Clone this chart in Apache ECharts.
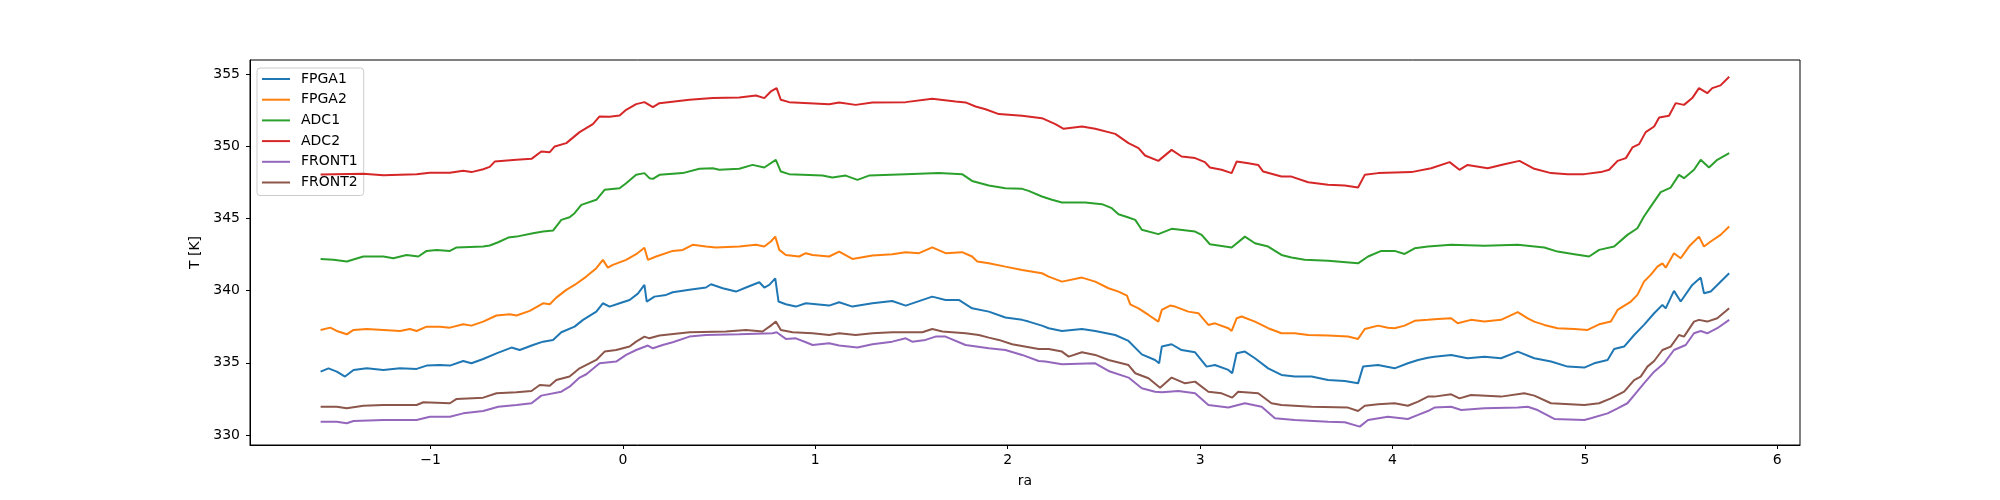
<!DOCTYPE html>
<html>
<head>
<meta charset="utf-8">
<script src="https://cdn.jsdelivr.net/npm/echarts@6/dist/echarts.min.js"></script>
<style>
html,body{margin:0;padding:0;background:#fff;}
#chart{width:2000px;height:500px;}
</style>
</head>
<body>
<div id="chart"></div>
<script>
const seriesNames = ['FPGA1','FPGA2','ADC1','ADC2','FRONT1','FRONT2'];
const xTicks = [-1,0,1,2,3,4,5,6];
const yTicks = [330,335,340,345,350,355];

const fpga1 = [[-1.571,334.39],[-1.530,334.62],[-1.487,334.39],[-1.444,334.05],[-1.400,334.51],[-1.331,334.62],[-1.245,334.51],[-1.158,334.62],[-1.072,334.58],[-1.020,334.81],[-0.951,334.85],[-0.899,334.81],[-0.830,335.13],[-0.787,334.97],[-0.726,335.27],[-0.657,335.66],[-0.579,336.06],[-0.536,335.89],[-0.467,336.24],[-0.415,336.47],[-0.363,336.59],[-0.320,337.12],[-0.251,337.51],[-0.207,337.98],[-0.138,338.55],[-0.104,339.13],[-0.069,338.90],[-0.017,339.13],[0.035,339.36],[0.078,339.80],[0.112,340.40],[0.124,339.25],[0.164,339.59],[0.225,339.71],[0.259,339.89],[0.346,340.06],[0.432,340.22],[0.458,340.45],[0.519,340.17],[0.588,339.94],[0.640,340.22],[0.709,340.59],[0.735,340.22],[0.761,340.40],[0.792,340.86],[0.809,339.25],[0.847,339.06],[0.899,338.90],[0.951,339.13],[1.072,338.97],[1.124,339.20],[1.193,338.90],[1.297,339.13],[1.400,339.29],[1.470,338.97],[1.608,339.59],[1.677,339.36],[1.746,339.36],[1.815,338.78],[1.902,338.55],[1.988,338.14],[2.075,337.98],[2.109,337.86],[2.178,337.58],[2.213,337.40],[2.282,337.21],[2.386,337.35],[2.455,337.21],[2.559,336.93],[2.628,336.52],[2.697,335.59],[2.766,335.20],[2.787,334.97],[2.801,336.13],[2.852,336.29],[2.904,335.89],[2.974,335.73],[3.034,334.74],[3.077,334.85],[3.147,334.51],[3.167,334.28],[3.190,335.66],[3.233,335.78],[3.285,335.32],[3.354,334.62],[3.423,334.16],[3.492,334.05],[3.579,334.05],[3.665,333.81],[3.752,333.74],[3.821,333.58],[3.847,334.74],[3.925,334.85],[4.011,334.62],[4.080,334.97],[4.133,335.20],[4.184,335.36],[4.218,335.43],[4.305,335.55],[4.390,335.32],[4.478,335.43],[4.564,335.32],[4.651,335.78],[4.737,335.32],[4.824,335.09],[4.910,334.74],[4.997,334.67],[5.048,334.97],[5.118,335.20],[5.152,335.96],[5.204,336.13],[5.256,336.93],[5.307,337.63],[5.360,338.44],[5.403,339.02],[5.420,338.78],[5.463,339.99],[5.498,339.25],[5.558,340.40],[5.602,340.91],[5.619,339.82],[5.654,339.94],[5.750,341.21]];

const fpga2 = [[-1.571,337.28],[-1.521,337.44],[-1.487,337.21],[-1.435,336.98],[-1.400,337.28],[-1.331,337.35],[-1.245,337.28],[-1.158,337.21],[-1.107,337.35],[-1.072,337.21],[-1.020,337.51],[-0.951,337.51],[-0.899,337.44],[-0.830,337.67],[-0.787,337.58],[-0.726,337.86],[-0.657,338.28],[-0.588,338.37],[-0.553,338.28],[-0.484,338.60],[-0.415,339.13],[-0.380,339.06],[-0.346,339.52],[-0.294,340.06],[-0.251,340.40],[-0.190,340.98],[-0.138,341.56],[-0.104,342.14],[-0.078,341.60],[-0.052,341.79],[0.017,342.14],[0.069,342.53],[0.112,342.98],[0.130,342.14],[0.173,342.37],[0.259,342.76],[0.311,342.83],[0.363,343.18],[0.432,343.06],[0.484,343.00],[0.605,343.06],[0.692,343.18],[0.735,343.06],[0.769,343.41],[0.792,343.75],[0.813,342.83],[0.847,342.48],[0.916,342.37],[0.951,342.60],[0.986,342.48],[1.072,342.37],[1.124,342.71],[1.193,342.20],[1.297,342.44],[1.400,342.53],[1.470,342.67],[1.539,342.60],[1.608,343.00],[1.677,342.60],[1.763,342.67],[1.815,342.37],[1.842,342.02],[1.902,341.90],[1.988,341.67],[2.075,341.44],[2.178,341.21],[2.213,340.98],[2.282,340.63],[2.386,340.91],[2.455,340.63],[2.524,340.17],[2.576,339.94],[2.620,339.66],[2.637,339.06],[2.680,338.78],[2.732,338.32],[2.783,337.86],[2.801,338.67],[2.844,338.97],[2.870,338.90],[2.939,338.55],[2.991,338.44],[3.043,337.63],[3.077,337.74],[3.147,337.40],[3.164,337.21],[3.190,338.09],[3.216,338.21],[3.285,337.86],[3.354,337.40],[3.423,337.05],[3.492,337.05],[3.562,336.93],[3.665,336.89],[3.769,336.82],[3.821,336.66],[3.856,337.35],[3.925,337.58],[3.976,337.44],[4.011,337.40],[4.063,337.58],[4.115,337.91],[4.184,337.98],[4.236,338.04],[4.305,338.09],[4.339,337.74],[4.408,337.98],[4.478,337.86],[4.564,337.98],[4.651,338.51],[4.703,338.09],[4.737,337.86],[4.789,337.63],[4.858,337.40],[4.945,337.35],[5.014,337.28],[5.074,337.67],[5.135,337.86],[5.170,338.67],[5.239,339.25],[5.273,339.71],[5.307,340.63],[5.342,341.10],[5.377,341.67],[5.403,341.90],[5.420,341.60],[5.463,342.60],[5.498,342.25],[5.541,343.06],[5.593,343.75],[5.619,343.06],[5.654,343.41],[5.705,343.87],[5.750,344.45]];

const adc1 = [[-1.571,342.20],[-1.504,342.14],[-1.435,342.02],[-1.349,342.37],[-1.245,342.37],[-1.193,342.25],[-1.124,342.48],[-1.063,342.37],[-1.020,342.76],[-0.968,342.83],[-0.899,342.76],[-0.864,343.00],[-0.726,343.06],[-0.692,343.13],[-0.648,343.36],[-0.596,343.68],[-0.553,343.75],[-0.467,343.98],[-0.415,344.10],[-0.363,344.17],[-0.320,344.91],[-0.277,345.09],[-0.251,345.37],[-0.216,345.95],[-0.138,346.30],[-0.095,346.99],[-0.017,347.10],[0.017,347.45],[0.069,348.03],[0.112,348.15],[0.138,347.80],[0.156,347.75],[0.190,348.03],[0.311,348.15],[0.398,348.45],[0.467,348.49],[0.501,348.38],[0.605,348.45],[0.674,348.72],[0.735,348.54],[0.795,349.07],[0.821,348.26],[0.864,348.08],[1.037,347.98],[1.089,347.85],[1.158,347.98],[1.219,347.68],[1.279,347.98],[1.470,348.08],[1.642,348.15],[1.763,348.08],[1.815,347.61],[1.902,347.29],[1.988,347.10],[2.075,347.06],[2.109,346.92],[2.178,346.53],[2.230,346.30],[2.282,346.11],[2.403,346.11],[2.490,346.00],[2.541,345.72],[2.576,345.30],[2.628,345.07],[2.663,344.91],[2.697,344.22],[2.783,343.92],[2.852,344.29],[2.974,344.10],[3.008,343.87],[3.051,343.22],[3.164,343.00],[3.233,343.75],[3.285,343.29],[3.354,343.06],[3.423,342.48],[3.475,342.30],[3.544,342.14],[3.665,342.07],[3.821,341.90],[3.873,342.37],[3.942,342.76],[4.011,342.76],[4.063,342.55],[4.115,342.94],[4.184,343.06],[4.305,343.18],[4.478,343.11],[4.651,343.18],[4.789,343.00],[4.858,342.71],[4.945,342.53],[5.022,342.37],[5.074,342.83],[5.152,343.06],[5.221,343.87],[5.273,344.33],[5.307,345.14],[5.342,345.83],[5.394,346.83],[5.446,347.15],[5.489,348.03],[5.515,347.80],[5.567,348.38],[5.602,349.07],[5.645,348.54],[5.688,349.07],[5.750,349.53]];

const adc2 = [[-1.571,348.06],[-1.349,348.10],[-1.245,348.00],[-1.072,348.08],[-1.003,348.17],[-0.899,348.17],[-0.830,348.31],[-0.787,348.22],[-0.726,348.42],[-0.692,348.58],[-0.666,348.95],[-0.553,349.07],[-0.475,349.14],[-0.424,349.65],[-0.380,349.60],[-0.354,350.00],[-0.294,350.23],[-0.225,350.99],[-0.156,351.54],[-0.121,352.08],[-0.069,352.05],[-0.017,352.15],[0.017,352.54],[0.069,352.93],[0.112,353.07],[0.156,352.72],[0.190,353.00],[0.346,353.23],[0.467,353.35],[0.605,353.39],[0.692,353.53],[0.735,353.35],[0.769,353.81],[0.799,354.04],[0.821,353.23],[0.864,353.07],[1.072,352.93],[1.124,353.05],[1.210,352.88],[1.297,353.05],[1.470,353.07],[1.608,353.30],[1.729,353.12],[1.781,353.05],[1.833,352.77],[1.885,352.58],[1.954,352.24],[2.075,352.12],[2.178,351.96],[2.248,351.54],[2.291,351.22],[2.386,351.38],[2.455,351.22],[2.559,350.87],[2.628,350.23],[2.680,349.88],[2.714,349.37],[2.783,349.00],[2.852,349.76],[2.904,349.30],[2.974,349.19],[3.025,348.91],[3.051,348.54],[3.112,348.38],[3.164,348.15],[3.190,348.95],[3.251,348.84],[3.302,348.72],[3.328,348.26],[3.423,347.91],[3.475,347.91],[3.562,347.52],[3.665,347.34],[3.752,347.29],[3.821,347.15],[3.856,348.03],[3.925,348.15],[4.098,348.22],[4.201,348.49],[4.297,348.91],[4.348,348.38],[4.390,348.72],[4.495,348.49],[4.581,348.77],[4.660,349.00],[4.737,348.45],[4.824,348.15],[4.910,348.08],[4.997,348.08],[5.083,348.22],[5.126,348.38],[5.170,349.00],[5.213,349.19],[5.247,349.93],[5.282,350.16],[5.316,350.99],[5.360,351.38],[5.386,352.01],[5.437,352.12],[5.472,353.00],[5.515,352.88],[5.558,353.35],[5.593,354.04],[5.636,353.69],[5.662,354.04],[5.705,354.23],[5.750,354.83]];

const front1 = [[-1.571,330.92],[-1.487,330.92],[-1.435,330.81],[-1.400,330.97],[-1.245,331.04],[-1.072,331.04],[-1.003,331.27],[-0.899,331.27],[-0.830,331.50],[-0.726,331.66],[-0.648,331.96],[-0.553,332.08],[-0.475,332.20],[-0.424,332.73],[-0.320,333.00],[-0.277,333.35],[-0.225,333.98],[-0.190,334.21],[-0.121,334.97],[-0.035,335.09],[0.017,335.55],[0.069,335.89],[0.130,336.20],[0.156,336.01],[0.207,336.24],[0.259,336.43],[0.346,336.82],[0.432,336.93],[0.605,336.98],[0.778,337.05],[0.799,337.12],[0.847,336.66],[0.899,336.70],[0.951,336.43],[0.986,336.24],[1.072,336.36],[1.124,336.20],[1.219,336.06],[1.297,336.29],[1.400,336.47],[1.470,336.70],[1.504,336.47],[1.573,336.59],[1.625,336.82],[1.677,336.82],[1.781,336.24],[1.902,336.01],[1.988,335.89],[2.075,335.55],[2.161,335.13],[2.196,335.09],[2.282,334.90],[2.455,334.97],[2.524,334.44],[2.628,333.98],[2.697,333.24],[2.766,333.00],[2.801,332.96],[2.887,333.05],[2.974,332.89],[3.043,332.08],[3.147,331.90],[3.233,332.20],[3.320,331.96],[3.389,331.16],[3.492,331.04],[3.665,330.92],[3.752,330.88],[3.830,330.58],[3.873,331.04],[3.976,331.27],[4.080,331.11],[4.133,331.39],[4.184,331.66],[4.218,331.90],[4.305,331.96],[4.357,331.73],[4.478,331.85],[4.651,331.90],[4.703,331.96],[4.754,331.73],[4.841,331.11],[4.997,331.04],[5.031,331.16],[5.118,331.50],[5.170,331.85],[5.221,332.20],[5.264,332.89],[5.307,333.58],[5.360,334.39],[5.411,334.97],[5.463,335.89],[5.524,336.24],[5.567,337.05],[5.602,337.21],[5.636,337.05],[5.688,337.40],[5.750,337.98]];

const front2 = [[-1.571,331.96],[-1.487,331.96],[-1.435,331.85],[-1.349,332.03],[-1.245,332.08],[-1.072,332.08],[-1.037,332.27],[-0.899,332.20],[-0.864,332.50],[-0.726,332.59],[-0.657,332.89],[-0.553,332.96],[-0.475,333.05],[-0.432,333.47],[-0.380,333.42],[-0.346,333.81],[-0.277,334.05],[-0.225,334.62],[-0.138,335.20],[-0.095,335.78],[-0.035,335.89],[0.035,336.13],[0.069,336.47],[0.112,336.82],[0.138,336.70],[0.190,336.89],[0.346,337.12],[0.536,337.17],[0.640,337.28],[0.726,337.17],[0.769,337.58],[0.795,337.86],[0.821,337.28],[0.882,337.12],[0.986,337.05],[1.072,336.93],[1.124,337.05],[1.210,336.93],[1.297,337.05],[1.400,337.12],[1.556,337.12],[1.608,337.35],[1.660,337.17],[1.781,337.05],[1.850,336.93],[1.902,336.75],[1.954,336.59],[2.023,336.29],[2.161,335.96],[2.213,335.96],[2.282,335.78],[2.317,335.43],[2.386,335.73],[2.455,335.55],[2.524,335.20],[2.628,334.85],[2.663,334.28],[2.732,333.93],[2.792,333.28],[2.852,333.98],[2.922,333.58],[2.974,333.70],[3.043,333.00],[3.112,332.89],[3.167,332.59],[3.198,333.00],[3.302,332.89],[3.371,332.20],[3.423,332.08],[3.579,331.96],[3.769,331.90],[3.821,331.66],[3.856,332.03],[3.925,332.13],[4.011,332.20],[4.080,332.03],[4.133,332.31],[4.184,332.66],[4.218,332.66],[4.305,332.82],[4.348,332.54],[4.408,332.77],[4.564,332.66],[4.685,332.89],[4.737,332.73],[4.824,332.20],[4.997,332.08],[5.074,332.20],[5.135,332.54],[5.204,333.00],[5.256,333.81],[5.290,334.05],[5.325,334.74],[5.360,335.13],[5.403,335.89],[5.446,336.13],[5.489,336.93],[5.515,336.82],[5.567,337.86],[5.593,337.98],[5.636,337.86],[5.688,338.09],[5.750,338.78]];

const seriesData = [fpga1, fpga2, adc1, adc2, front1, front2];
const colors = ['#1f77b4','#ff7f0e','#2ca02c','#d62728','#9467bd','#8c564b'];
const FONT = 'DejaVu Sans';

const chart = echarts.init(document.getElementById('chart'), null, {renderer: 'canvas'});
const minusFmt = v => String(v).replace('-', '\u2212');

chart.setOption({
  animation: false,
  backgroundColor: '#ffffff',
  textStyle: {fontFamily: FONT},
  grid: {left: 250, top: 60, width: 1550, height: 385, show: true, borderColor: '#000', borderWidth: 1, containLabel: false},
  legend: {
    orient: 'vertical',
    left: 257, top: 68,
    data: seriesNames,
    icon: 'rect',
    itemWidth: 28, itemHeight: 2,
    itemGap: 6.7,
    padding: [4, 6, 6, 5],
    backgroundColor: 'rgba(255,255,255,0.8)',
    borderColor: '#cccccc', borderWidth: 1, borderRadius: 3,
    textStyle: {fontFamily: FONT, fontSize: 14, color: '#000', padding: [0, 0, 0, 6]}
  },
  xAxis: {
    type: 'value', min: -1.938, max: 6.118,
    name: 'ra', nameLocation: 'middle', nameGap: 29,
    nameTextStyle: {fontFamily: FONT, fontSize: 14, color: '#000'},
    axisLine: {show: true, onZero: false, lineStyle: {color: '#000', width: 1}},
    axisTick: {show: true, length: 4, lineStyle: {color: '#000', width: 1}, customValues: xTicks},
    axisLabel: {fontFamily: FONT, fontSize: 14, color: '#000', margin: 8, customValues: xTicks, formatter: minusFmt},
    splitLine: {show: false}
  },
  yAxis: {
    type: 'value', min: 329.307, max: 355.99,
    name: 'T [K]', nameLocation: 'middle', nameGap: 45, nameRotate: 90,
    nameTextStyle: {fontFamily: FONT, fontSize: 14, color: '#000'},
    axisLine: {show: true, onZero: false, lineStyle: {color: '#000', width: 1}},
    axisTick: {show: true, length: 4, lineStyle: {color: '#000', width: 1}, customValues: yTicks},
    axisLabel: {fontFamily: FONT, fontSize: 14, color: '#000', margin: 10, customValues: yTicks},
    splitLine: {show: false}
  },
  series: seriesNames.map((n, i) => ({
    name: n, type: 'line', data: seriesData[i],
    symbol: 'none', showSymbol: false,
    lineStyle: {width: 2, color: colors[i]},
    itemStyle: {color: colors[i]},
    z: 2 + i
  }))
});
</script>
</body>
</html>
